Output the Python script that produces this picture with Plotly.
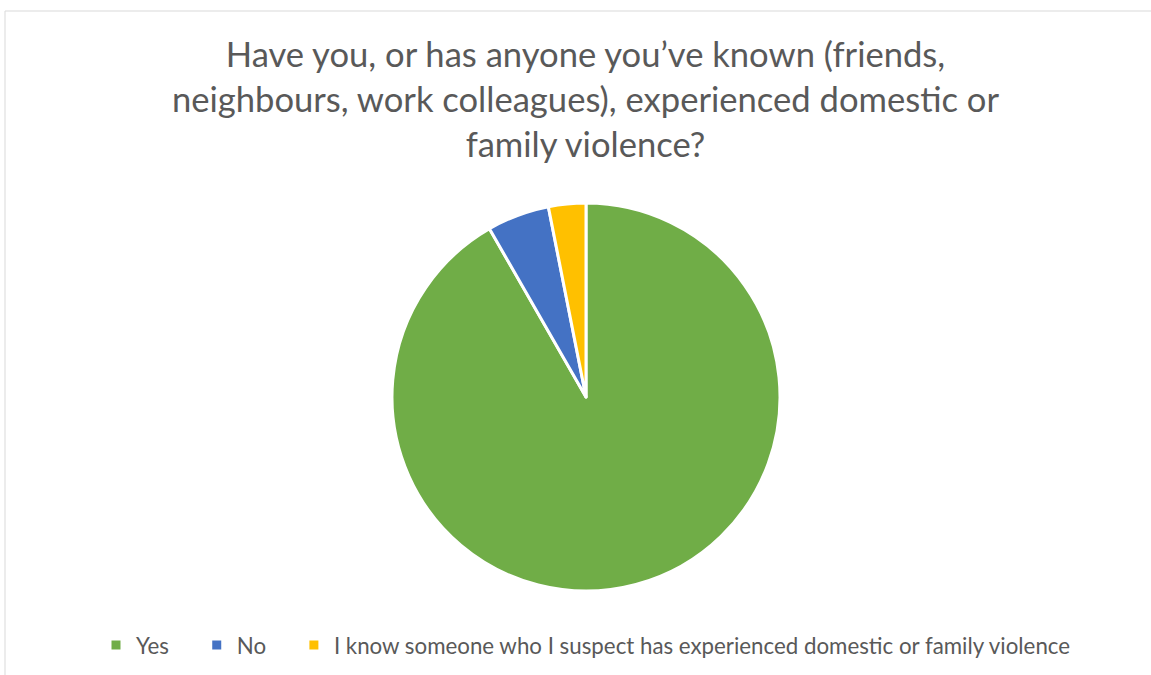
import plotly.graph_objects as go

# survey answers (counts)
labels = ["Yes", "No", "I know someone who I suspect has experienced domestic or family violence"]
counts = [177, 10, 6]
colors = ["#70AD47", "#4472C4", "#FFC000"]

title_text = ("Have you, or has anyone you’ve known (friends,<br>"
              "neighbours, work colleagues), experienced domestic or<br>"
              "family violence?")

W, H = 1151, 675

# pad the short legend names so the entries sit as far apart as in the original
pad = "\u00a0" * 4
legend_names = [labels[0] + pad, labels[1] + pad, labels[2]]

fig = go.Figure(
    data=go.Pie(
        labels=legend_names,
        values=counts,
        sort=False,
        direction="clockwise",
        rotation=0,
        textinfo="none",
        hoverinfo="label+value+percent",
        marker=dict(colors=colors, line=dict(color="white", width=3)),
        domain=dict(x=[(586 - 194) / W, (586 + 194) / W],
                    y=[(278 - 194) / H, (278 + 194) / H]),
    ))

fig.update_layout(
    width=W, height=H,
    margin=dict(l=0, r=0, t=0, b=0),
    paper_bgcolor="white",
    font=dict(family="Lato", color="#595959"),
    title=dict(text=title_text, x=585.5 / W, xanchor="center",
               y=1 - 67 / H, yanchor="top", yref="container",
               font=dict(size=34.6, color="#595959")),
    showlegend=True,
    legend=dict(orientation="h", x=96 / W, xanchor="left",
                y=1 - 645 / H, yanchor="middle",
                font=dict(size=22.3, color="#595959"),
                itemwidth=30, itemclick=False),
    shapes=[dict(type="rect", xref="paper", yref="paper",
                 x0=5 / W, x1=1.01, y0=-0.01, y1=1 - 11 / H,
                 line=dict(color="#D9D9D9", width=1))],
)

# drop the page's default body margin so the figure fills the window
fig.write_html("out.html", config={"displayModeBar": False},
               post_script="document.body.style.margin='0';")
